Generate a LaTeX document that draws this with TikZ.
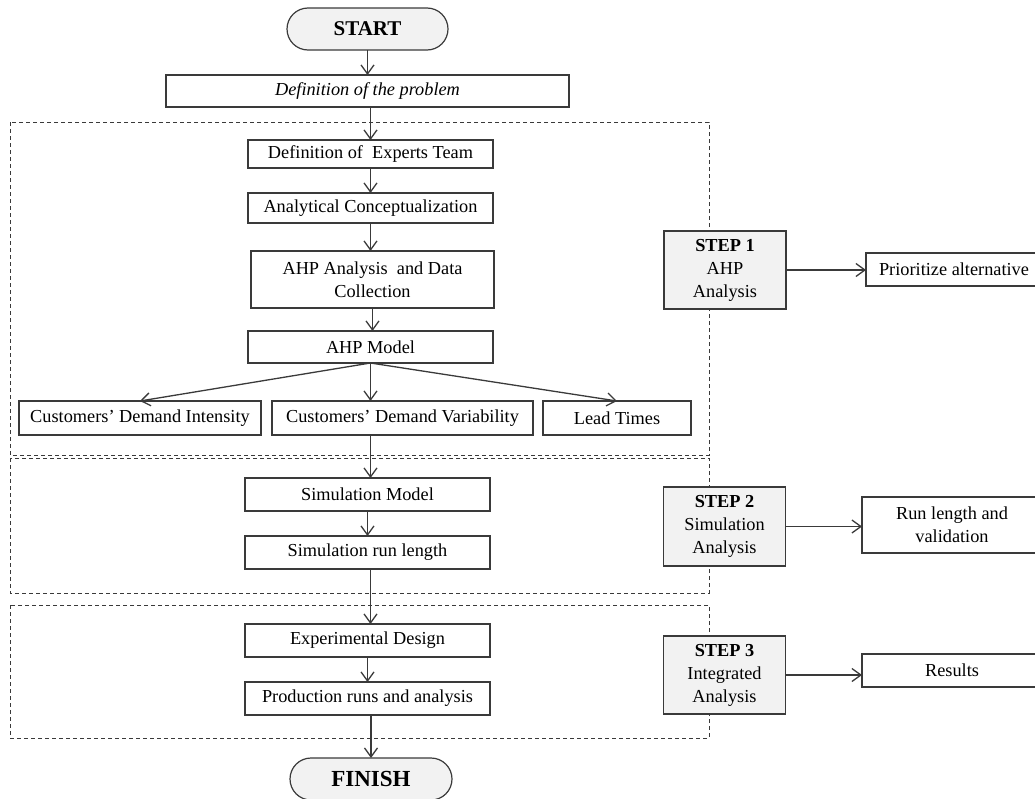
\documentclass[tikz,border=0pt]{standalone}
\usepackage{fontspec}
\setmainfont{Liberation Serif}
\usetikzlibrary{arrows.meta,shapes.misc}
\definecolor{ln}{HTML}{3A3A3A}
\definecolor{gf}{HTML}{F2F2F2}
\begin{document}
\begin{tikzpicture}[x=1pt,y=-1pt,
  every node/.style={inner sep=0pt, outer sep=0pt, align=center, font=\fontsize{18.3}{23}\selectfont},
  box/.style={draw=ln, line width=1.2pt, fill=white},
  stepbox/.style={draw=ln, line width=1.2pt, fill=gf, minimum width=122pt, minimum height=78pt},
  term/.style={draw=ln, line width=1.2pt, fill=gf, rounded rectangle, minimum width=161pt, minimum height=42pt},
  frame/.style={draw=ln, line width=1pt, dash pattern=on 4pt off 3pt},
  arr/.style={draw=ln, line width=1.3pt, -{Straight Barb[length=9pt,width=13pt]}}]
\useasboundingbox (0,0) rectangle (1035,798);
\clip (0,0) rectangle (1035,798);
% dashed frames
\draw[frame] (10,122) rectangle (709,455);
\draw[frame] (10,458) rectangle (709,593);
\draw[frame] (10,605) rectangle (709,738);
% terminals
\node[term, font=\fontsize{21}{24}\selectfont\bfseries] (start) at (367.5,29) {START};
\node[term, minimum width=162pt, font=\fontsize{23}{26}\selectfont\bfseries] (finish) at (371,779) {FINISH};
% main boxes
\node[box, minimum width=403pt, minimum height=32pt, font=\fontsize{18.3}{23}\selectfont\itshape] (defprob) at (367.5,91) {Definition of the problem};
\node[box, minimum width=245pt, minimum height=28pt] (experts) at (370.5,154) {Definition of~~Experts Team};
\node[box, minimum width=245pt, minimum height=30pt] (concept) at (370.5,208) {Analytical Conceptualization};
\node[box, minimum width=243pt, minimum height=57pt] (ahpdata) at (372.5,279.5) {AHP Analysis~ and Data\\Collection};
\node[box, minimum width=245pt, minimum height=32pt] (ahpmodel) at (370.5,347) {AHP Model};
\node[box, minimum width=242pt, minimum height=34pt] (intensity) at (140,418) {Customers’ Demand Intensity};
\node[box, minimum width=261pt, minimum height=34pt] (variability) at (402.5,418) {Customers’ Demand Variability};
\node[box, minimum width=148pt, minimum height=34pt] (lead) at (617,418) {Lead Times};
\node[box, minimum width=245pt, minimum height=33pt] (simmodel) at (367.5,494.5) {Simulation Model};
\node[box, minimum width=245pt, minimum height=33pt] (simrun) at (367.5,552.5) {Simulation run length};
\node[box, minimum width=245pt, minimum height=33pt] (expdesign) at (367.5,640.5) {Experimental Design};
\node[box, minimum width=245pt, minimum height=33pt] (prodruns) at (367.5,698.5) {Production runs and analysis};
% step boxes
\node[stepbox] (step1) at (725,270) {\textbf{STEP 1}\\AHP\\Analysis};
\node[stepbox, minimum height=79pt] (step2) at (724.5,526.5) {\textbf{STEP 2}\\Simulation\\Analysis};
\node[stepbox] (step3) at (724.5,675) {\textbf{STEP 3}\\Integrated\\Analysis};
% right boxes
\node[box, minimum width=176pt, minimum height=33pt] (prior) at (954,269.5) {Prioritize alternative};
\node[box, minimum width=180pt, minimum height=56pt] (runlen) at (952,525) {Run length and\\validation};
\node[box, minimum width=180pt, minimum height=33pt] (results) at (952,670.5) {Results};
% connectors
\draw[arr] (start) -- (defprob);
\draw[arr] (defprob.south -| experts.north) -- (experts.north);
\draw[arr] (experts) -- (concept);
\draw[arr] (concept.south) -- (concept.south |- ahpdata.north);
\draw[arr] (ahpdata.south) -- (ahpdata.south |- ahpmodel.north);
\draw[arr] (ahpmodel.south) -- (intensity.north);
\draw[arr] (ahpmodel.south) -- (ahpmodel.south |- variability.north);
\draw[arr] (ahpmodel.south) -- (lead.north);
\draw[arr] (ahpmodel.south |- variability.south) -- (ahpmodel.south |- simmodel.north);
\draw[arr] (simmodel) -- (simrun);
\draw[arr] (simrun.south -| ahpmodel.south) -- (expdesign.north -| ahpmodel.south);
\draw[arr] (expdesign) -- (prodruns);
\draw[arr] (prodruns.south -| finish.north) -- (finish.north);
\draw[arr] (step1.east) -- (step1.east -| prior.west);
\draw[arr] (step2.east) -- (step2.east -| runlen.west);
\draw[arr] (step3.east) -- (step3.east -| results.west);
\end{tikzpicture}
\end{document}
